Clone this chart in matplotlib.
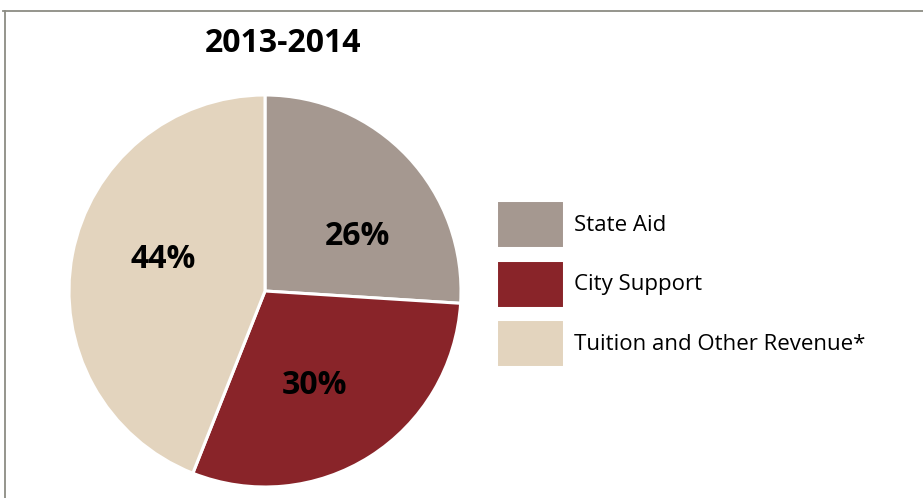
import matplotlib
matplotlib.use('Agg')
import matplotlib.pyplot as plt
from matplotlib.lines import Line2D

plt.rcParams['font.family'] = ['Open Sans', 'DejaVu Sans']

# revenue shares
labels = ['State Aid', 'City Support', 'Tuition and Other Revenue*']
shares = [26, 30, 44]
colors = ['#A59890', '#892429', '#E3D4BE']
title = '2013-2014'

W, H = 923, 498
fig = plt.figure(figsize=(W / 100, H / 100), dpi=100)

# pie centred at (265, 291) px with radius 196 px
cx, cy, r = 265, 291, 196
ax = fig.add_axes([(cx - r) / W, (H - cy - r) / H, 2 * r / W, 2 * r / H])
wedges, texts, autotexts = ax.pie(shares, colors=colors, startangle=90, counterclock=False,
                                  autopct='%d%%', pctdistance=0.55,
                                  wedgeprops=dict(edgecolor='white', linewidth=2.2),
                                  textprops=dict(fontsize=23, fontweight='bold', color='black'))
ax.set_xlim(-1, 1)
ax.set_ylim(-1, 1)
ax.set_aspect('equal')

# nudge the percentage labels
label_xy = [(0.47, 0.28), (0.255, -0.48), (-0.52, 0.16)]
for t, (x, y) in zip(autotexts, label_xy):
    t.set_position((x, y))
    t.set_ha('center')
    t.set_va('center')

fig.text(283 / W, 1 - 44 / H, title, ha='center', va='center', fontsize=23, fontweight='bold')

fig.legend(wedges, labels, loc='upper left', bbox_to_anchor=(496 / W, 1 - 200 / H),
           frameon=False, fontsize=16, handlelength=3.06, handleheight=2.95,
           handletextpad=0.45, labelspacing=0.52, borderpad=0, borderaxespad=0)

# frame lines along the top and left edges
fig.add_artist(Line2D([3 / W, 1], [1 - 11 / H, 1 - 11 / H], color='#8C8C84', lw=1.3))
fig.add_artist(Line2D([5 / W, 5 / W], [0, 1 - 11 / H], color='#8C8C84', lw=1.3))

fig.savefig('out.png', dpi=100)
